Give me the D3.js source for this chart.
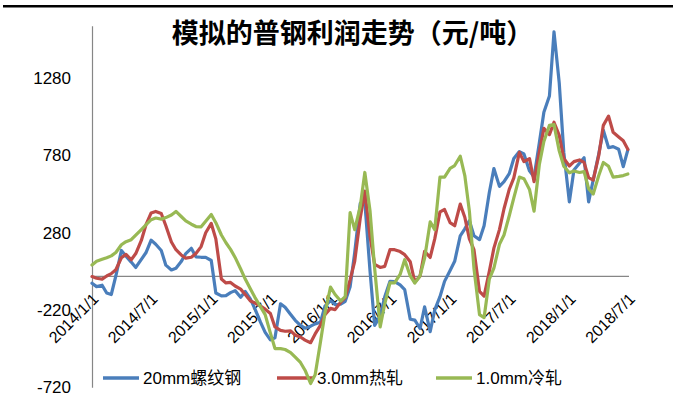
<!DOCTYPE html>
<html><head><meta charset="utf-8">
<script src="https://cdn.jsdelivr.net/npm/d3@7/dist/d3.min.js"></script>
<style>body{margin:0;background:#fff}svg{display:block}</style>
</head><body>
<svg id="c" width="673" height="416"></svg>
<script>
const dates = [
"2014-01-01","2014-01-15","2014-02-01","2014-02-15","2014-03-01","2014-03-15","2014-04-01","2014-04-15","2014-05-01","2014-05-15","2014-06-01","2014-06-15",
"2014-07-01","2014-07-15","2014-08-01","2014-08-15","2014-09-01","2014-09-15","2014-10-01","2014-10-15","2014-11-01","2014-11-15","2014-12-01","2014-12-15",
"2015-01-01","2015-01-15","2015-02-01","2015-02-15","2015-03-01","2015-03-15","2015-04-01","2015-04-15","2015-05-01","2015-05-15","2015-06-01","2015-06-15",
"2015-07-01","2015-07-15","2015-08-01","2015-08-15","2015-09-01","2015-09-15","2015-10-01","2015-10-15","2015-11-01","2015-11-15","2015-12-01","2015-12-15",
"2016-01-01","2016-01-15","2016-02-01","2016-02-15","2016-03-01","2016-03-15","2016-04-01","2016-04-15","2016-05-01","2016-05-15","2016-06-01","2016-06-15",
"2016-07-01","2016-07-15","2016-08-01","2016-08-15","2016-09-01","2016-09-15","2016-10-01","2016-10-15","2016-11-01","2016-11-15","2016-12-01","2016-12-15",
"2017-01-01","2017-01-15","2017-02-01","2017-02-15","2017-03-01","2017-03-15","2017-04-01","2017-04-15","2017-05-01","2017-05-15","2017-06-01","2017-06-15",
"2017-07-01","2017-07-15","2017-08-01","2017-08-15","2017-09-01","2017-09-15","2017-10-01","2017-10-15","2017-11-01","2017-11-15","2017-12-01","2017-12-15",
"2018-01-01","2018-01-15","2018-02-01","2018-02-15","2018-03-01","2018-03-15","2018-04-01","2018-04-15","2018-05-01","2018-05-15","2018-06-01","2018-06-15",
"2018-06-29"];

// 20mm螺纹钢
const rebar = [
-47,-69,-60,-110,-120,0,165,128,90,55,108,150,
232,205,165,70,39,50,93,145,179,124,121,120,
100,-110,-129,-127,-108,-95,-138,-100,-150,-215,-300,-365,
-414,-400,-180,-203,-250,-287,-320,-338,-325,-310,-300,-195,
-160,-185,-183,-164,-70,150,470,480,30,-320,-260,-135,
-35,-36,-58,-88,-280,-286,-340,-200,-360,-220,-134,-35,
35,95,260,305,358,260,235,325,540,695,580,610,
662,760,805,790,680,640,860,1060,1165,1580,1250,800,
480,686,730,765,480,621,790,943,830,837,820,708,
816];

// 3.0mm热轧
const hotRolled = [
-4,-15,-20,0,15,40,118,140,105,145,230,330,
408,418,404,325,220,170,136,115,121,145,190,280,
340,240,-20,-45,-42,-65,-85,-120,-162,-175,-195,-215,
-243,-330,-352,-358,-355,-383,-395,-415,-432,-375,-320,-250,
-210,-218,-170,-140,-25,95,375,550,255,75,55,62,
170,170,158,138,92,-40,0,160,120,240,415,430,
345,325,465,380,240,170,-100,-130,30,180,300,435,
560,635,800,740,760,610,800,955,915,995,910,760,
712,740,751,735,636,620,780,975,1035,930,900,875,
820];

// 1.0mm冷轧
const coldRolled = [
71,95,108,118,130,152,202,222,235,265,300,330,
364,375,368,378,395,418,385,356,335,320,318,355,
398,345,265,215,172,120,45,-20,-85,-140,-200,-250,
-370,-470,-470,-476,-496,-525,-560,-610,-696,-640,-430,-240,
-72,-120,-162,-134,410,300,450,670,420,50,-330,-180,
-45,-45,10,105,0,-46,0,115,350,300,640,640,
697,715,775,650,420,50,-250,-270,-20,50,205,265,
390,505,640,630,560,420,720,870,975,980,810,710,
668,680,670,675,565,530,650,735,710,640,645,650,
660];

const seriesNames = ["20mm螺纹钢","3.0mm热轧","1.0mm冷轧"];
const seriesColors = ["#4A7EBB","#BE4B48","#98B954"];
const yTicks = [-720,-220,280,780,1280];
const xTicks = ["2014-01-01","2014-07-01","2015-01-01","2015-07-01","2016-01-01","2016-07-01","2017-01-01","2017-07-01","2018-01-01","2018-07-01"];
const title = "模拟的普钢利润走势（元/吨）";

const parse = d3.timeParse("%Y-%m-%d");
const fmt = d3.timeFormat("%Y/%-m/%-d");
const svg = d3.select("#c");
const FONT = "'Liberation Sans','Noto Sans CJK SC',sans-serif";

// top rule
svg.append("rect").attr("x",3).attr("y",5).attr("width",670).attr("height",2.5).attr("fill","#000");

const x = d3.scaleTime().domain([parse("2014-01-01"), parse("2018-07-01")]).range([92, 628.5]);
const y = d3.scaleLinear().domain([-720, 1620]).range([387.2, 25.7]);

// title
svg.append("text").attr("x",352.5).attr("y",34).attr("dy","0.35em")
  .attr("text-anchor","middle").attr("font-family","'Noto Sans CJK SC',sans-serif")
  .attr("font-weight","bold").attr("font-size",27).attr("fill","#000").text(title);

// y axis
const yAxis = svg.append("g").attr("transform","translate(92,0)")
  .call(d3.axisLeft(y).tickValues(yTicks).tickFormat(d => String(d)).tickSize(0).tickSizeOuter(0).tickPadding(21));
yAxis.select(".domain").attr("stroke","#868686").attr("stroke-width",1.2);
yAxis.selectAll("text").attr("font-family",FONT).attr("font-size",17).attr("fill","#000");

// x axis at zero
const xAxis = svg.append("g").attr("transform",`translate(0,${y(0)})`)
  .call(d3.axisBottom(x).tickValues(xTicks.map(parse)).tickFormat(fmt).tickSize(0).tickSizeOuter(0));
xAxis.select(".domain").attr("stroke","#868686").attr("stroke-width",1.2);
xAxis.selectAll("text").attr("font-family",FONT).attr("font-size",16).attr("fill","#000")
  .attr("x",0).attr("y",0).attr("dy","0.35em")
  .attr("transform","translate(3,20) rotate(-45)").attr("text-anchor","end");

// legend
const legendX = [103, 277, 436];
const lg = svg.append("g");
seriesNames.forEach((n,i)=>{
  lg.append("line").attr("x1",legendX[i]).attr("x2",legendX[i]+36).attr("y1",378).attr("y2",378)
    .attr("stroke",seriesColors[i]).attr("stroke-width",3.5);
  lg.append("text").attr("x",legendX[i]+40).attr("y",378).attr("dy","0.35em")
    .attr("font-family",FONT).attr("font-size",17).attr("fill","#000").text(n);
});

// lines
const dts = dates.map(parse);
const line = d3.line().x((d,i)=>x(dts[i])).y(d=>y(d));
[rebar, hotRolled, coldRolled].forEach((s,i)=>{
  svg.append("path").datum(s).attr("d",line).attr("fill","none")
    .attr("stroke",seriesColors[i]).attr("stroke-width",3.2)
    .attr("stroke-linejoin","round").attr("stroke-linecap","round");
});
</script>
</body></html>
